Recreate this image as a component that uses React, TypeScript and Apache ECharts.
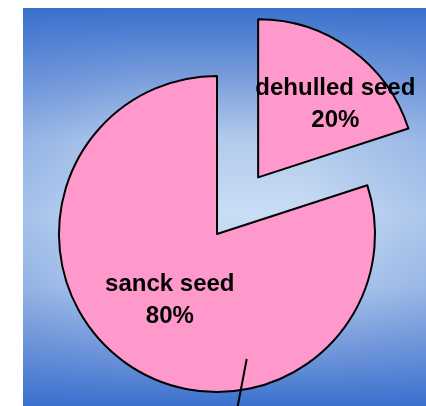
import React, { useEffect, useRef } from "react";
import * as echarts from "echarts";

const categories = ["dehulled seed", "sanck seed"];
const values = [20, 80];
const sliceColor = "#ff99cc";

export default function App() {
  const ref = useRef<HTMLDivElement>(null);
  useEffect(() => {
    if (!ref.current) return;
    const chart = echarts.init(ref.current, undefined, { renderer: "svg" });
    const data = categories.map((name, i) => ({
      name,
      value: values[i],
      selected: i === 0,
      label:
        i === 0
          ? { padding: [0, 0, 0, 58], formatter: "{t|{b}}\n{t|{d}%}\n{s|}", rich: { s: { lineHeight: 17 } } }
          : { padding: [0, 0, 0, 2], formatter: "{t|{b}}\n{t|{d}%}\n{s|}", rich: { s: { lineHeight: 4 } } },
    }));
    const textStyle = {
      color: "#000",
      fontFamily: "Liberation Sans, Arial, sans-serif",
      fontWeight: "bold",
      fontSize: 24,
      lineHeight: 32,
      align: "center",
    };
    chart.setOption({
      animation: false,
      graphic: [
        {
          type: "rect",
          z: -10,
          silent: true,
          shape: { x: 23, y: 8, width: 403, height: 398 },
          style: {
            fill: new echarts.graphic.LinearGradient(0, 0, 0, 1, [
              { offset: 0, color: "#3a70cd" },
              { offset: 0.15, color: "#7096da" },
              { offset: 0.33, color: "#b2caec" },
              { offset: 0.52, color: "#c9ddf4" },
              { offset: 0.7, color: "#b2caec" },
              { offset: 0.87, color: "#7096da" },
              { offset: 1, color: "#3a70cd" },
            ]),
          },
        },
        {
          type: "rect",
          z: -9,
          silent: true,
          shape: { x: 23, y: 8, width: 403, height: 398 },
          style: {
            fill: new echarts.graphic.LinearGradient(0, 0, 1, 0, [
              { offset: 0, color: "rgba(58,112,205,0.25)" },
              { offset: 0.3, color: "rgba(58,112,205,0)" },
              { offset: 0.7, color: "rgba(58,112,205,0)" },
              { offset: 1, color: "rgba(58,112,205,0.2)" },
            ]),
          },
        },
        {
          type: "line",
          z: 100,
          silent: true,
          shape: { x1: 246.7, y1: 359, x2: 237, y2: 410 },
          style: { stroke: "#000", lineWidth: 2 },
        },
      ],
      series: [
        {
          type: "pie",
          center: [217, 234],
          radius: 158,
          startAngle: 90,
          clockwise: true,
          selectedMode: "single",
          selectedOffset: 70,
          avoidLabelOverlap: false,
          emphasis: { disabled: true },
          itemStyle: { color: sliceColor, borderColor: "#000", borderWidth: 2 },
          select: { itemStyle: { color: sliceColor, borderColor: "#000", borderWidth: 2 } },
          label: {
            show: true,
            position: "inside",
            ...textStyle,
            rich: { t: textStyle },
          },
          labelLine: { show: false },
          data,
        },
      ],
    });
    return () => chart.dispose();
  }, []);
  return (
    <div
      ref={ref}
      style={{ position: "fixed", left: 0, top: 0, width: 426, height: 406 }}
    />
  );
}
